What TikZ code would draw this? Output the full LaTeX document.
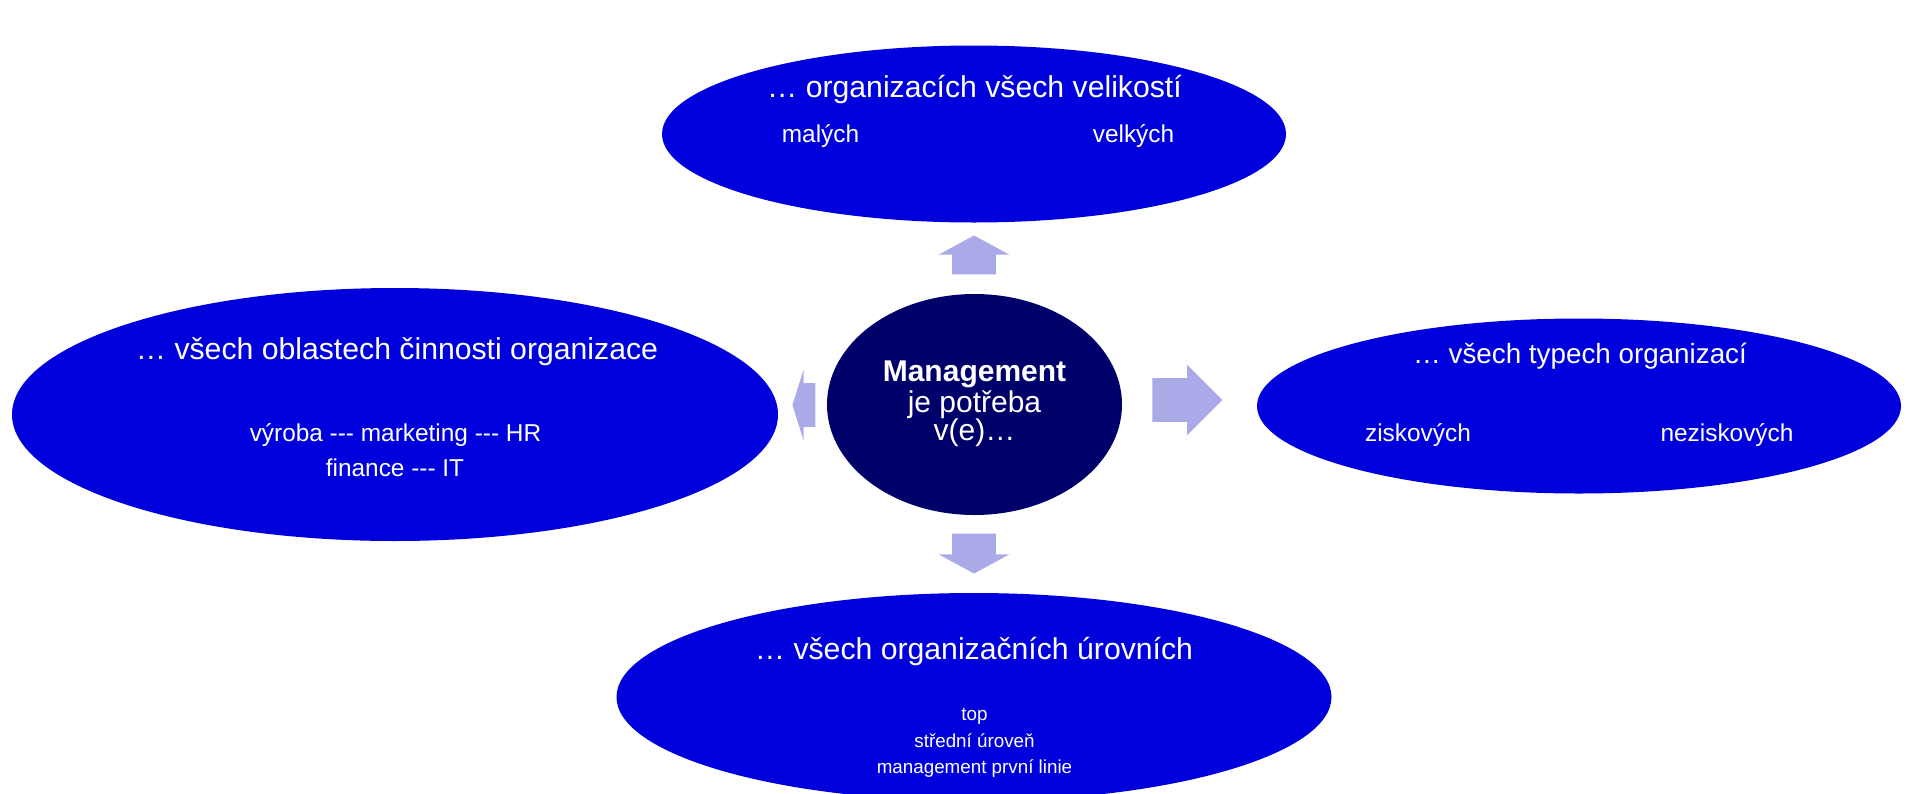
\documentclass[tikz,border=0pt]{standalone}
\usepackage{fontspec}
\setmainfont{Liberation Sans}
\usetikzlibrary{shapes.geometric,shapes.arrows}

\definecolor{ovalblue}{RGB}{0,0,220}
\definecolor{hubnavy}{RGB}{0,0,106}
\definecolor{arrowlilac}{RGB}{170,170,232}

% three plain hyphens, kept apart from the dash ligature
\newcommand{\tridash}{\mbox{-}\mbox{-}\mbox{-}}

\tikzset{
	oval/.style={ellipse, fill=ovalblue, inner sep=0pt},
	hub/.style={ellipse, fill=hubnavy, inner sep=0pt},
	blockarrow/.style={single arrow, fill=arrowlilac, inner xsep=0pt, inner ysep=10.75pt, single arrow head extend=6.75pt, anchor=tip},
	headline/.style={white, inner sep=0pt, anchor=base, font=\fontsize{15.1}{18}\selectfont},
	item/.style={white, inner sep=0pt, anchor=base, font=\fontsize{12.2}{14}\selectfont},
	smallitem/.style={white, inner sep=0pt, anchor=base, font=\fontsize{9.4}{11}\selectfont}
}

\begin{document}
\begin{tikzpicture}[x=0.5pt, y=-0.5pt]
\useasboundingbox (0,0) rectangle (1907,793);
\clip (0,0) rectangle (1907,793);

\node (sizes) at (974,134) [oval, minimum width=312pt, minimum height=88.5pt] {};
\node (areas) at (395,414.5) [oval, minimum width=383pt, minimum height=126.5pt] {};
\node (types) at (1579,406) [oval, minimum width=322pt, minimum height=87.5pt] {};
\node (levels) at (974,697) [oval, minimum width=357.5pt, minimum height=104pt] {};
\node (hub) at (974.5,404.5) [hub, minimum width=147.5pt, minimum height=110.5pt] {};

% arrows round the hub
\node (toSizes) at (974,235) [blockarrow, rotate=90, minimum height=19.5pt, single arrow tip angle=123] {};
\node (toLevels) at (974,574) [blockarrow, rotate=-90, minimum height=20pt, single arrow tip angle=123] {};
\node (toTypes) at (1223,400) [blockarrow, minimum height=35pt, single arrow tip angle=90] {};
\node (toAreas) at (792,405) [blockarrow, rotate=180, minimum height=11.5pt, single arrow tip angle=145] {};

\node (hubA) at (974.5,381) [headline, font=\fontsize{15}{18}\selectfont\bfseries] {Management};
\node (hubB) at (974.5,412) [headline, font=\fontsize{15}{18}\selectfont] {je potřeba};
\node (hubC) at (974.5,440) [headline, font=\fontsize{15}{18}\selectfont] {v(e)…};

\node (sizesT) at (974.5,97) [headline] {… organizacích všech velikostí};
\node (small) at (820.5,142) [item] {malých};
\node (large) at (1133.5,142) [item] {velkých};

\node (areasT) at (397,359) [headline] {… všech oblastech činnosti organizace};
\node (areasA) at (395.5,441) [item] {výroba \tridash{} marketing \tridash{} HR};
\node (areasB) at (395,476) [item] {finance \tridash{} IT};

\node (typesT) at (1580,363) [headline, font=\fontsize{13.9}{17}\selectfont] {… všech typech organizací};
\node (profit) at (1418,441) [item] {ziskových};
\node (nonprofit) at (1727,441) [item] {neziskových};

\node (levelsT) at (974,659) [headline] {… všech organizačních úrovních};
\node (top) at (974.5,720) [smallitem] {top};
\node (middle) at (974.5,747) [smallitem] {střední úroveň};
\node (first) at (974.5,773) [smallitem] {management první linie};
\end{tikzpicture}
\end{document}
